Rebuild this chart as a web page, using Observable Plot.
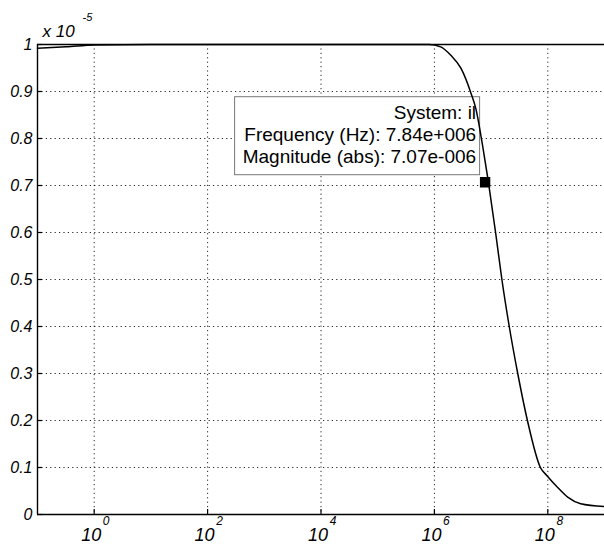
<!DOCTYPE html>
<html>
<head>
<meta charset="utf-8">
<script src="https://cdn.jsdelivr.net/npm/d3@7"></script>
<script src="https://cdn.jsdelivr.net/npm/@observablehq/plot@0.6"></script>
<style>
  html, body { margin: 0; padding: 0; background: #fff; }
  #chart svg { display: block; }
</style>
</head>
<body>
<div id="chart"></div>
<script>
// Frequency (Hz) and magnitude (×1e-5)
const freq = [0.1, 0.32, 1, 10, 100, 1e3, 1e4, 1e5, 8e5, 1.29e6, 1.95e6, 2.95e6, 4.37e6, 5.37e6, 7.08e6, 8.9e6, 1.2e7, 1.55e7, 2.09e7, 2.95e7, 4.37e7, 7.4e7, 9.6e7, 1.48e8, 2.24e8, 3.8e8, 1e9];
const mag  = [0.992, 0.995, 0.999, 1, 1, 1, 1, 1, 1, 0.995, 0.977, 0.949, 0.898, 0.864, 0.785, 0.71, 0.6, 0.5, 0.4, 0.3, 0.2, 0.1, 0.083, 0.058, 0.037, 0.023, 0.017];

const xTicks = [1, 1e2, 1e4, 1e6, 1e8];
const xExponents = ["0", "2", "4", "6", "8"];
const yTicks = [0, 0.1, 0.2, 0.3, 0.4, 0.5, 0.6, 0.7, 0.8, 0.9, 1];
const yTickLabels = ["0", "0.1", "0.2", "0.3", "0.4", "0.5", "0.6", "0.7", "0.8", "0.9", "1"];

const tipFreq = [7.84e6];
const tipMag = [0.707];
const tipLines = ["System: il", "Frequency (Hz): 7.84e+006", "Magnitude (abs): 7.07e-006"];

const curve = freq.map((f, i) => ({f, m: mag[i]}));
const tip = tipFreq.map((f, i) => ({f, m: tipMag[i]}));

const W = 604, H = 549;
const mL = 37, mR = 0, mT = 44, mB = 35;
const innerW = W - mL - mR, innerH = H - mT - mB;
const font = "'Liberation Sans', Arial, Helvetica, sans-serif";

const chart = Plot.plot({
  width: W, height: H,
  marginTop: mT, marginBottom: mB, marginLeft: mL, marginRight: mR,
  style: {fontFamily: font, background: "#fff", color: "#000", overflow: "visible"},
  x: {type: "log", domain: [0.1, 1e9], axis: null},
  y: {domain: [0, 1], axis: null},
  marks: [
    // grid
    Plot.ruleY(yTicks.slice(1, -1), {stroke: "#000", strokeWidth: 1, strokeDasharray: "1.2,3.2", strokeOpacity: 0.85}),
    Plot.ruleX(xTicks, {stroke: "#000", strokeWidth: 1, strokeDasharray: "1.2,3.2", strokeOpacity: 0.85}),
    // inward tick marks
    Plot.tickX(xTicks, {x: d => d, stroke: "#000", strokeWidth: 1.2, insetTop: innerH - 5}),
    Plot.tickY(yTicks, {y: d => d, stroke: "#000", strokeWidth: 1.2, insetRight: innerW - 5}),
    // data tip box
    Plot.rect(tip, {x1: "f", x2: "f", y1: "m", y2: "m", insetLeft: -250, insetRight: 5, insetTop: -85, insetBottom: 7, fill: "#fff", stroke: "#777", strokeWidth: 1}),
    Plot.text(tip, {x: "f", y: "m", text: () => tipLines[0], textAnchor: "end", dx: -9, dy: -69, fontSize: 19, fill: "#000"}),
    Plot.text(tip, {x: "f", y: "m", text: () => tipLines[1], textAnchor: "end", dx: -9, dy: -47, fontSize: 19, fill: "#000"}),
    Plot.text(tip, {x: "f", y: "m", text: () => tipLines[2], textAnchor: "end", dx: -9, dy: -25, fontSize: 19, fill: "#000"}),
    // curve
    Plot.line(curve, {x: "f", y: "m", stroke: "#000", strokeWidth: 1.5, curve: "monotone-x"}),
    Plot.dot(tip, {x: "f", y: "m", symbol: "square", r: 5, fill: "#000", stroke: "#000"}),
    // frame lines (left, bottom, top)
    Plot.ruleX([0.1], {stroke: "#000", strokeWidth: 1.4}),
    Plot.ruleY([0, 1], {stroke: "#000", strokeWidth: 1.4}),
    // y tick labels
    Plot.text(yTicks, {y: d => d, text: (d, i) => yTickLabels[i], frameAnchor: "left", textAnchor: "end", dx: -5, fontSize: 16, fontStyle: "italic", fill: "#000"}),
    // x tick labels: base and exponent
    Plot.text(xTicks, {x: d => d, text: () => "10", frameAnchor: "bottom", dy: 26, dx: -3, fontSize: 18, fontStyle: "italic", fill: "#000"}),
    Plot.text(xTicks, {x: d => d, text: (d, i) => xExponents[i], frameAnchor: "bottom", dy: 10, dx: 12, fontSize: 12, fontStyle: "italic", fill: "#000"}),
    // scale factor "x 10^-5"
    Plot.text(["x 10"], {frameAnchor: "top-left", text: d => d, textAnchor: "start", dx: 5, dy: -20, fontSize: 17, fontStyle: "italic", fill: "#000"}),
    Plot.text(["-5"], {frameAnchor: "top-left", text: d => d, textAnchor: "start", dx: 45, dy: -31, fontSize: 11, fontStyle: "italic", fill: "#000"})
  ]
});

document.getElementById("chart").appendChild(chart);
</script>
</body>
</html>
